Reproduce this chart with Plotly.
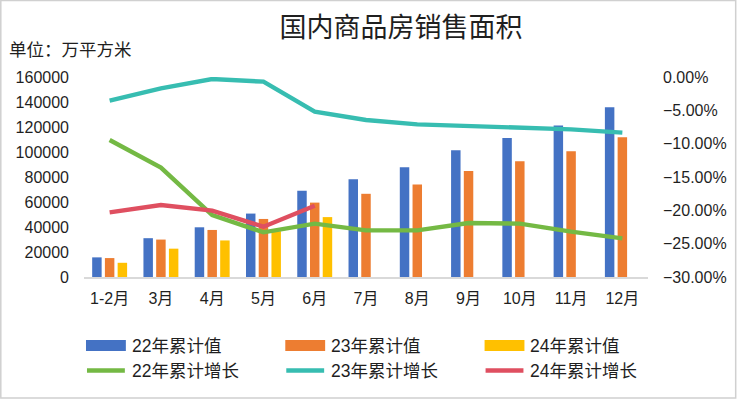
import plotly.graph_objects as go

categories = ["1-2月", "3月", "4月", "5月", "6月", "7月", "8月", "9月", "10月", "11月", "12月"]
area_22 = [15703, 31046, 39768, 50738, 68923, 78178, 87890, 101422, 111179, 121250, 135837]
area_23 = [15133, 29946, 37636, 46440, 59515, 66563, 73949, 84806, 92579, 100509, 111735]
area_24 = [11369, 22668, 29252, 36642, 47916, None, None, None, None, None, None]
growth_22 = [-9.45, -13.6, -20.7, -23.3, -22.0, -23.0, -23.0, -21.9, -22.0, -23.2, -24.2]
growth_23 = [-3.55, -1.7, -0.3, -0.7, -5.2, -6.45, -7.1, -7.35, -7.6, -7.85, -8.35]
growth_24 = [-20.3, -19.2, -20.05, -22.45, -19.3, None, None, None, None, None, None]
bar_names = ["22年累计值", "23年累计值", "24年累计值"]
line_names = ["22年累计增长", "23年累计增长", "24年累计增长"]
left_ticks = [0, 20000, 40000, 60000, 80000, 100000, 120000, 140000, 160000]
right_ticks = [0, -0.05, -0.10, -0.15, -0.20, -0.25, -0.30]
title_text = "国内商品房销售面积"
unit_text = "单位：万平方米"

BAR_COLORS = ["#4472C4", "#ED7D31", "#FFC000"]
LINE_COLORS = ["#74B944", "#37BDB1", "#DF4F60"]
FONT = "Liberation Sans, Noto Sans CJK SC, sans-serif"
TXT = "#1f1f1f"

W, H = 739, 399
L, R, T, B = 84, 89, 77, 122
PW, PH = W - L - R, H - T - B


def px_x(px):
    return (px - L) / PW


def px_y(py):
    return (H - B - py) / PH


fig = go.Figure()
for name, vals, col in zip(bar_names, [area_22, area_23, area_24], BAR_COLORS):
    fig.add_trace(go.Bar(x=categories, y=vals, name=name, marker_color=col,
                         marker_line_width=0, yaxis="y", showlegend=False))
for name, vals, col in zip(line_names, [growth_22, growth_23, growth_24], LINE_COLORS):
    fig.add_trace(go.Scatter(x=categories, y=[v / 100 if v is not None else None for v in vals],
                             name=name, mode="lines", line=dict(color=col, width=4.4),
                             yaxis="y2", showlegend=False))

shapes = []
annotations = []
# manual legend
col_x = [86, 286, 486]
row_y = [345.5, 370.5]
for i in range(3):
    x0 = col_x[i]
    shapes.append(dict(type="rect", xref="paper", yref="paper",
                       x0=px_x(x0), x1=px_x(x0 + 40), y0=px_y(row_y[0] + 5.5), y1=px_y(row_y[0] - 5.5),
                       fillcolor=BAR_COLORS[i], line=dict(width=0)))
    annotations.append(dict(text=bar_names[i], xref="paper", yref="paper", x=px_x(x0 + 44),
                            y=px_y(row_y[0]), xanchor="left", yanchor="middle", showarrow=False,
                            font=dict(size=17.5, color=TXT, family=FONT)))
    shapes.append(dict(type="line", xref="paper", yref="paper",
                       x0=px_x(x0 + 1), x1=px_x(x0 + 39), y0=px_y(row_y[1]), y1=px_y(row_y[1]),
                       line=dict(color=LINE_COLORS[i], width=4.5)))
    annotations.append(dict(text=line_names[i], xref="paper", yref="paper", x=px_x(x0 + 44),
                            y=px_y(row_y[1]), xanchor="left", yanchor="middle", showarrow=False,
                            font=dict(size=17.5, color=TXT, family=FONT)))

annotations.append(dict(text=unit_text, xref="paper", yref="paper", x=px_x(7), y=px_y(50),
                        xanchor="left", yanchor="middle", showarrow=False,
                        font=dict(size=17.5, color=TXT, family=FONT)))
# outer border
shapes.append(dict(type="rect", xref="paper", yref="paper",
                   x0=px_x(0.5), x1=px_x(W - 1), y0=px_y(H - 1), y1=px_y(0.5),
                   line=dict(color="#D0D0D0", width=1.5), fillcolor="rgba(0,0,0,0)"))

fig.update_layout(
    width=W, height=H,
    margin=dict(l=L, r=R, t=T, b=B),
    paper_bgcolor="white", plot_bgcolor="white",
    barmode="group", bargap=0.255, bargroupgap=0.256,
    title=dict(text=title_text, x=401 / W, xanchor="center", y=1 - 28 / H, yanchor="middle",
               font=dict(size=27, color=TXT, family=FONT)),
    font=dict(family=FONT, color=TXT, size=16),
    xaxis=dict(type="category", showline=True, linecolor="#D9D9D9", linewidth=1.5,
               showgrid=False, ticks="", tickfont=dict(size=16, color=TXT), ticklabelstandoff=6),
    yaxis=dict(range=[0, 160000], tickvals=left_ticks, ticktext=[str(v) for v in left_ticks],
               showgrid=False, zeroline=False, showline=False, ticks="",
               tickfont=dict(size=16, color=TXT), ticklabelstandoff=14),
    yaxis2=dict(range=[-0.30, 0], tickvals=right_ticks, tickformat=".2%", overlaying="y",
                side="right", showgrid=False, zeroline=False, showline=False, ticks="",
                tickfont=dict(size=16, color=TXT), ticklabelstandoff=14),
    shapes=shapes, annotations=annotations,
    showlegend=False,
)

fig.write_html("out.html", config={"displayModeBar": False},
               post_script="document.body.style.margin='0';document.body.style.overflow='hidden';")
